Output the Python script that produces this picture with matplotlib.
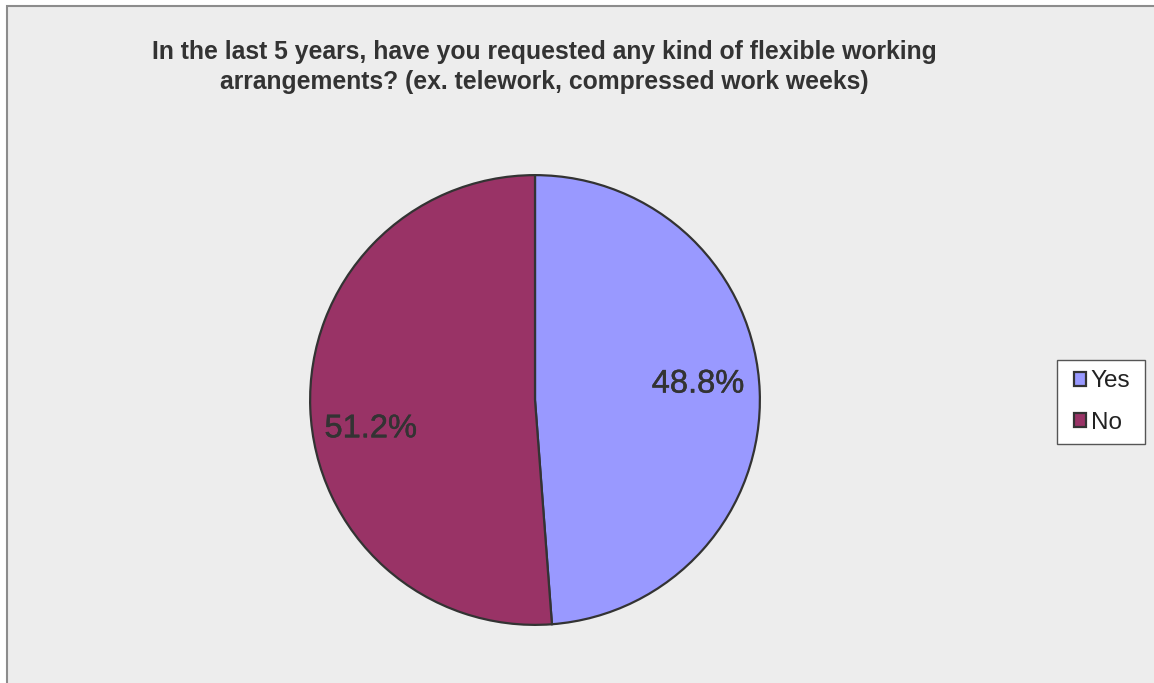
import matplotlib as mpl
mpl.use('agg')
import matplotlib.pyplot as plt
import matplotlib.patheffects as pe
from matplotlib.patches import Rectangle

title = ('In the last 5 years, have you requested any kind of flexible working\n'
         'arrangements? (ex. telework, compressed work weeks)')
labels = ['Yes', 'No']
shares = [48.8, 51.2]
colors = ['#9999FF', '#993366']

W, H = 1154, 683
fig = plt.figure(figsize=(W / 100, H / 100), dpi=100, facecolor='white')
plt.rcParams['font.family'] = ['Liberation Sans', 'DejaVu Sans']

# chart area panel, behind everything
fig.patches.append(Rectangle((7 / W, -0.01), 1.1, 1 - 6 / H + 0.01, transform=fig.transFigure,
                             facecolor='#EDEDED', edgecolor='#8C8C8C', linewidth=1.5, zorder=-5))

fig.text(544 / W, 1 - 67 / H, title, ha='center', va='center', fontsize=17.8,
         fontweight='bold', color='#333333', linespacing=1.3)

# pie axes, centre (535, 400), radius 226 px
cx, cy, r = 535, 400, 226
ax = fig.add_axes([(cx - r) / W, (H - cy - r) / H, 2 * r / W, 2 * r / H])
ax.set_aspect('equal')
wedges, texts, autotexts = ax.pie(shares, colors=colors, startangle=90, counterclock=False,
                                  autopct='%1.1f%%', pctdistance=0.73,
                                  wedgeprops=dict(edgecolor='#333333', linewidth=1.6),
                                  textprops=dict(fontsize=23.5, color='#333333'))
autotexts[0].set_position((0.725, 0.071))
autotexts[1].set_position((-0.73, -0.128))
for t in autotexts:
    t.set_path_effects([pe.withStroke(linewidth=0.35, foreground='#333333')])
ax.set_xlim(-1.005, 1.005)
ax.set_ylim(-1.005, 1.005)
ax.axis('off')

# legend box
fig.patches.append(Rectangle((1057 / W, 1 - 444 / H), 88 / W, 84 / H, transform=fig.transFigure,
                             facecolor='white', edgecolor='#555555', linewidth=1.0, zorder=1))
leg = fig.legend(wedges, labels, loc='center', bbox_to_anchor=(1102 / W, 1 - 402 / H),
                 fontsize=17.5, frameon=False, handlelength=0.5, handleheight=0.5,
                 handletextpad=0.2, labelspacing=0.8, borderpad=0, borderaxespad=0)
leg.set_zorder(2)
for t in leg.get_texts():
    t.set_color('#222222')

plt.savefig('out.png', dpi=100, facecolor=fig.get_facecolor())
